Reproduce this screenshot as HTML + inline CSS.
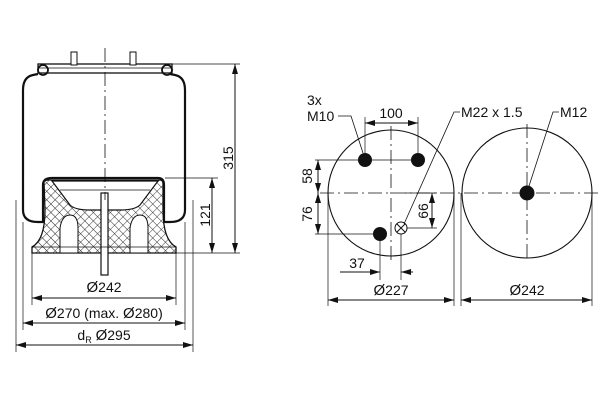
<!DOCTYPE html>
<html><head><meta charset="utf-8"><style>
html,body{margin:0;padding:0;background:#fff;}
svg{display:block;}
text{font-family:"Liberation Sans",sans-serif;font-size:14px;fill:#111;}
.d{font-family:"Liberation Sans",sans-serif;font-size:15px;}
</style></head><body>
<svg width="600" height="400" viewBox="0 0 600 400" xmlns="http://www.w3.org/2000/svg">
<defs>
<pattern id="hatch" width="6" height="6" patternUnits="userSpaceOnUse" patternTransform="rotate(45)">
<rect width="6" height="6" fill="#fff"/>
<path d="M0 0H6M0 0V6" stroke="#222" stroke-width="0.9"/>
</pattern>
<marker id="a" viewBox="0 0 10 6" refX="10" refY="3" markerWidth="10" markerHeight="6" orient="auto-start-reverse" markerUnits="userSpaceOnUse">
<path d="M0 0L10 3L0 6z" fill="#111"/>
</marker>
</defs>
<g stroke="#111" fill="none" stroke-width="1">
<rect x="38" y="64" width="134" height="9" fill="#fff" stroke-width="1.3"/>
<line x1="38" y1="68" x2="172" y2="68" stroke-width="0.7"/>
<circle cx="43" cy="70" r="5" stroke-width="1.8"/>
<circle cx="167" cy="70" r="5" stroke-width="1.8"/>
<rect x="71" y="52" width="6" height="13" fill="#fff"/>
<rect x="130" y="52" width="6" height="13" fill="#fff"/>
<line x1="172" y1="64" x2="240" y2="64" stroke-width="0.7"/>
<path d="M38 74 L33 75 Q23 77 23 90 L23 210 Q23 222 38 222 L43 222 L43 185 Q43 178 52 178 L158 178 Q164 178 164 185 L164 222 L170 222 Q185 222 185 210 L185 90 Q185 77 175 75 L170 74" stroke-width="2.2"/>
<path d="M44 182 Q44 180 50 180 L160 180 Q163 180 163 184 L163 210 Q163 240 176 247 L176 253 L32 253 L32 247 Q45 240 45 210 Z" fill="url(#hatch)" stroke-width="1.3"/>
<path d="M52 181 L70 205 Q75 210 90 210 L120 210 Q135 210 140 205 L158 181 Z" fill="#fff" stroke-width="1.2"/>
<line x1="60" y1="190" x2="150" y2="190" stroke-width="0.7"/>
<path d="M60 253 L60 228 Q62 215 70 215 Q78 215 78 228 L78 253 Z" fill="#fff"/>
<path d="M130 253 L130 228 Q132 215 140 215 Q148 215 148 228 L148 253 Z" fill="#fff"/>
<rect x="101" y="193" width="7" height="82" fill="#fff" stroke-width="1.2"/>
<line x1="32" y1="247" x2="176" y2="247" stroke-width="0.8"/>
<line x1="105" y1="48" x2="105" y2="200" stroke-dasharray="14 4 2 4" stroke-width="0.8"/>
<line x1="165" y1="178" x2="218" y2="178" stroke-width="0.7"/>
<line x1="176" y1="253" x2="240" y2="253" stroke-width="0.7"/>
<line x1="235" y1="64" x2="235" y2="253" marker-start="url(#a)" marker-end="url(#a)"/>
<line x1="212" y1="178" x2="212" y2="253" marker-start="url(#a)" marker-end="url(#a)"/>
<line x1="32" y1="253" x2="32" y2="305" stroke-width="0.7"/>
<line x1="176" y1="253" x2="176" y2="305" stroke-width="0.7"/>
<line x1="23" y1="222" x2="23" y2="330" stroke-width="0.7"/>
<line x1="185" y1="222" x2="185" y2="330" stroke-width="0.7"/>
<line x1="16" y1="200" x2="16" y2="352" stroke-width="0.7"/>
<line x1="193" y1="200" x2="193" y2="352" stroke-width="0.7"/>
<line x1="32" y1="298" x2="176" y2="298" marker-start="url(#a)" marker-end="url(#a)"/>
<line x1="23" y1="323" x2="185" y2="323" marker-start="url(#a)" marker-end="url(#a)"/>
<line x1="16" y1="345" x2="193" y2="345" marker-start="url(#a)" marker-end="url(#a)"/>
<circle cx="391" cy="193" r="63" stroke-width="1.1"/>
<circle cx="527" cy="193" r="65" stroke-width="1.1"/>
<line x1="320" y1="193" x2="598" y2="193" stroke-dasharray="14 4 2 4" stroke-width="0.8"/>
<line x1="391" y1="126" x2="391" y2="262" stroke-dasharray="14 4 2 4" stroke-width="0.8"/>
<line x1="527" y1="124" x2="527" y2="262" stroke-dasharray="14 4 2 4" stroke-width="0.8"/>
<circle cx="401" cy="228" r="6"/>
<path d="M397 224L405 232M405 224L397 232"/>
<line x1="365" y1="160" x2="365" y2="117" stroke-width="0.7"/>
<line x1="418" y1="160" x2="418" y2="117" stroke-width="0.7"/>
<line x1="365" y1="123" x2="418" y2="123" marker-start="url(#a)" marker-end="url(#a)"/>
<line x1="315" y1="160" x2="418" y2="160" stroke-width="0.7"/>
<line x1="315" y1="234" x2="380" y2="234" stroke-width="0.7"/>
<line x1="318" y1="160" x2="318" y2="193" marker-start="url(#a)" marker-end="url(#a)"/>
<line x1="318" y1="193" x2="318" y2="234" marker-start="url(#a)" marker-end="url(#a)"/>
<line x1="405" y1="193" x2="437" y2="193" stroke-width="0.7"/>
<line x1="407" y1="228" x2="437" y2="228" stroke-width="0.7"/>
<line x1="432" y1="193" x2="432" y2="228" marker-start="url(#a)" marker-end="url(#a)"/>
<line x1="380" y1="234" x2="380" y2="280" stroke-width="0.7"/>
<line x1="401" y1="234" x2="401" y2="280" stroke-width="0.7"/>
<line x1="340" y1="272" x2="380" y2="272" marker-end="url(#a)"/>
<line x1="413" y1="272" x2="401" y2="272" marker-end="url(#a)"/>
<line x1="328" y1="193" x2="328" y2="306" stroke-width="0.7"/>
<line x1="454" y1="193" x2="454" y2="306" stroke-width="0.7"/>
<line x1="461" y1="193" x2="461" y2="306" stroke-width="0.7"/>
<line x1="592" y1="193" x2="592" y2="306" stroke-width="0.7"/>
<line x1="328" y1="300" x2="454" y2="300" marker-start="url(#a)" marker-end="url(#a)"/>
<line x1="461" y1="300" x2="592" y2="300" marker-start="url(#a)" marker-end="url(#a)"/>
<path d="M338 116 L351 116 L363 153" stroke-width="0.8"/>
<path d="M460 112 L454 112 L404 224" stroke-width="0.8"/>
<path d="M559 112 L553 112 L529 186" stroke-width="0.8"/>
</g>
<g fill="#111">
<circle cx="365" cy="160" r="7"/>
<circle cx="418" cy="160" r="7"/>
<circle cx="380" cy="234" r="7"/>
<circle cx="527" cy="193" r="7.5"/>
</g>
<text x="228" y="158" text-anchor="middle" transform="rotate(-90 228 158)" dy="5">315</text>
<text x="205" y="215" text-anchor="middle" transform="rotate(-90 205 215)" dy="5">121</text>
<text x="104" y="292" text-anchor="middle"><tspan class="d">Ø</tspan>242</text>
<text x="104" y="318" text-anchor="middle"><tspan class="d">Ø</tspan>270 (max. <tspan class="d">Ø</tspan>280)</text>
<text x="104" y="340" text-anchor="middle">d<tspan font-size="9" dy="3">R</tspan><tspan dy="-3"> </tspan><tspan class="d">Ø</tspan>295</text>
<text x="307" y="105">3x</text>
<text x="307" y="121">M10</text>
<text x="391" y="118" text-anchor="middle">100</text>
<text x="461" y="117">M22 x 1.5</text>
<text x="560" y="117">M12</text>
<text x="307" y="176" text-anchor="middle" transform="rotate(-90 307 176)" dy="5">58</text>
<text x="307" y="214" text-anchor="middle" transform="rotate(-90 307 214)" dy="5">76</text>
<text x="423" y="211" text-anchor="middle" transform="rotate(-90 423 211)" dy="5">66</text>
<text x="357" y="268" text-anchor="middle">37</text>
<text x="391" y="295" text-anchor="middle"><tspan class="d">Ø</tspan>227</text>
<text x="527" y="295" text-anchor="middle"><tspan class="d">Ø</tspan>242</text>
</svg>
</body></html>
